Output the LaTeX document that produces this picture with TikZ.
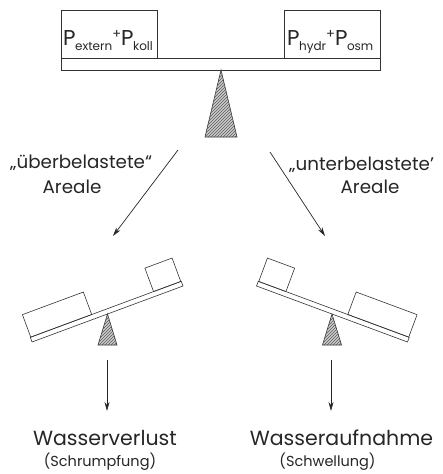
\documentclass[tikz,border=0pt]{standalone}
\usepackage{fontspec}
\setmainfont{Poppins}
\usetikzlibrary{patterns,arrows.meta}

\tikzset{
  ln/.style={draw=black!80, line width=0.6pt},
  hatch/.style={ln, fill=gray!40, postaction={pattern=north east lines, pattern color=black!65}},
  arr/.style={draw=black!85, line width=0.7pt, -{Stealth[length=9pt,width=5pt]}},
  lbl/.style={font=\fontsize{18.3}{20}\selectfont, text=black!85, inner sep=0pt},
  big/.style={font=\fontsize{20.5}{22}\selectfont, text=black!85, inner sep=0pt},
  small/.style={font=\fontsize{14.5}{16}\selectfont, text=black!85, inner sep=0pt},
  ptext/.style={font=\fontsize{21.5}{24}\selectfont, text=black!85, inner sep=0pt},
}
\newcommand{\Psb}[1]{P\kern-0.5pt\raisebox{-0.45ex}{\fontsize{12}{13}\selectfont #1}}
\newcommand{\plusr}{\raisebox{0.55ex}{\fontsize{13}{13}\selectfont+}}

\begin{document}
\begin{tikzpicture}[x=1pt,y=-1pt]
\useasboundingbox (0,0) rectangle (443,474);

% top seesaw
\draw[ln] (61,58) rectangle (380,70);
\draw[ln] (61,10) rectangle (157,58);
\draw[ln] (284,10) rectangle (380,58);
\node[ptext, anchor=base west] (ltxt) at (63,45) {\Psb{extern}\plusr\Psb{koll}};
\node[ptext, anchor=base west] (rtxt) at (287,45) {\Psb{hydr}\plusr\Psb{osm}};
\draw[hatch] (221,70) -- (237,137) -- (205,137) -- cycle;

% labels
\node[lbl, anchor=base west] (ueber) at (10,168) {„überbelastete“};
\node[lbl, anchor=base] (ar1) at (72,193) {Areale};
\node[lbl, anchor=base west] (unter) at (289,170) {„unterbelastete'};
\node[lbl, anchor=base] (ar2) at (370,193) {Areale};

% arrows
\coordinate (a1s) at (178,150);
\coordinate (a1e) at (113,236);
\coordinate (a2s) at (270,152);
\coordinate (a2e) at (325,236);
\draw[arr] (a1s) -- (a1e);
\draw[arr] (a2s) -- (a2e);

% left lower seesaw
\begin{scope}[shift={(107.5,314)}, rotate=20.35]
  \draw[ln] (-80.5,0) rectangle (80.5,-5);
  \draw[ln] (-80,-5) rectangle (-15,-29);
  \draw[ln] (51,-5) rectangle (80,-30);
\end{scope}
\draw[hatch] (107.5,314) -- (117,345) -- (98,345) -- cycle;

% right lower seesaw
\begin{scope}[shift={(332,314)}, rotate=-20.35]
  \draw[ln] (-80.5,0) rectangle (80.5,-5);
  \draw[ln] (80,-5) rectangle (15,-29);
  \draw[ln] (-51,-5) rectangle (-80,-30);
\end{scope}
\draw[hatch] (332,314) -- (341.5,345) -- (322.5,345) -- cycle;

% down arrows
\coordinate (b1s) at (107,360);
\coordinate (b1e) at (107,411);
\coordinate (b2s) at (331,360);
\coordinate (b2e) at (331,411);
\draw[arr] (b1s) -- (b1e);
\draw[arr] (b2s) -- (b2e);

% bottom labels
\node[big, anchor=base] (wv) at (105,445) {Wasserverlust};
\node[small, anchor=base] (sch) at (100,466) {(Schrumpfung)};
\node[big, anchor=base] (wa) at (341.5,445) {Wasseraufnahme};
\node[small, anchor=base] (swe) at (327.5,466) {(Schwellung)};
\end{tikzpicture}
\end{document}
